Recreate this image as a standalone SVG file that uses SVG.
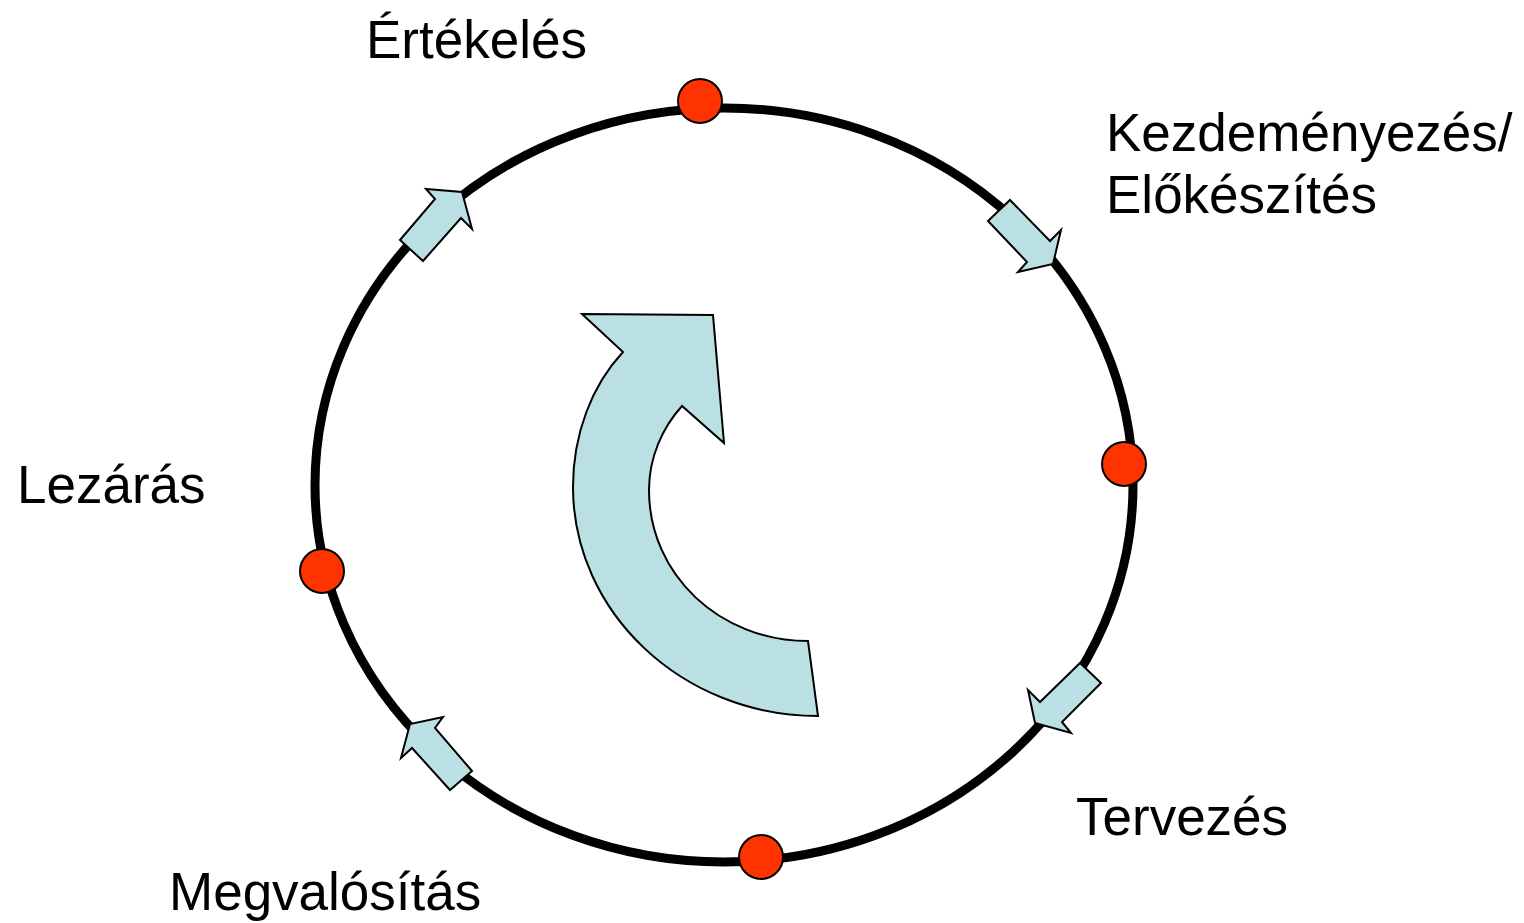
<svg xmlns="http://www.w3.org/2000/svg" width="1524" height="923" viewBox="0 0 1524 923">
<style>
.lbl{font-family:"Liberation Sans",Arial,sans-serif;font-size:53px;fill:#000}
.arr{fill:#BBE0E3;stroke:#000;stroke-width:2;stroke-linejoin:miter}
.dot{fill:#FF3300;stroke:#000;stroke-width:2}
</style>
<rect width="1524" height="923" fill="#fff"/>
<g id="cycle">
<ellipse cx="724" cy="485" rx="409" ry="377" fill="none" stroke="#000" stroke-width="9"/>
</g>
<g id="connectors">
<polygon class="arr" points="400,240 435,199 426,189 462,192 472,229 461,218 423,261"/>
<polygon class="arr" points="1010,200 1050,241 1061,230 1053,264 1018,272 1027,262 988,221"/>
<polygon class="arr" points="1080,663 1040,702 1028,690 1035,723 1071,733 1062,722 1101,683"/>
<polygon class="arr" points="472,771 435,728 443,717 410,724 401,758 412,748 450,790"/>
</g>
<g id="center-arrow">
<path class="arr" d="M582,314 L713,315 L724,443 L682,406 C662,428 649,458 649,490 C649,575 720,641 808,641 L818,716 C682,716 573,612 573,487 C573,434 592,385 623,352 Z"/>
</g>
<g id="node-ertekeles"><circle class="dot" cx="700" cy="101" r="22"/><text class="lbl" x="366" y="58">Értékelés</text></g>
<g id="node-kezdemenyezes"><circle class="dot" cx="1124" cy="464" r="22"/><text class="lbl" x="1106" y="151">Kezdeményezés/</text><text class="lbl" x="1106" y="213">Előkészítés</text></g>
<g id="node-tervezes"><circle class="dot" cx="761" cy="857" r="22"/><text class="lbl" x="1076" y="835">Tervezés</text></g>
<g id="node-megvalositas"><circle class="dot" cx="322" cy="571" r="22"/><text class="lbl" x="169" y="910">Megvalósítás</text></g>
<g id="node-lezaras"><text class="lbl" x="17" y="503">Lezárás</text></g>
</svg>
